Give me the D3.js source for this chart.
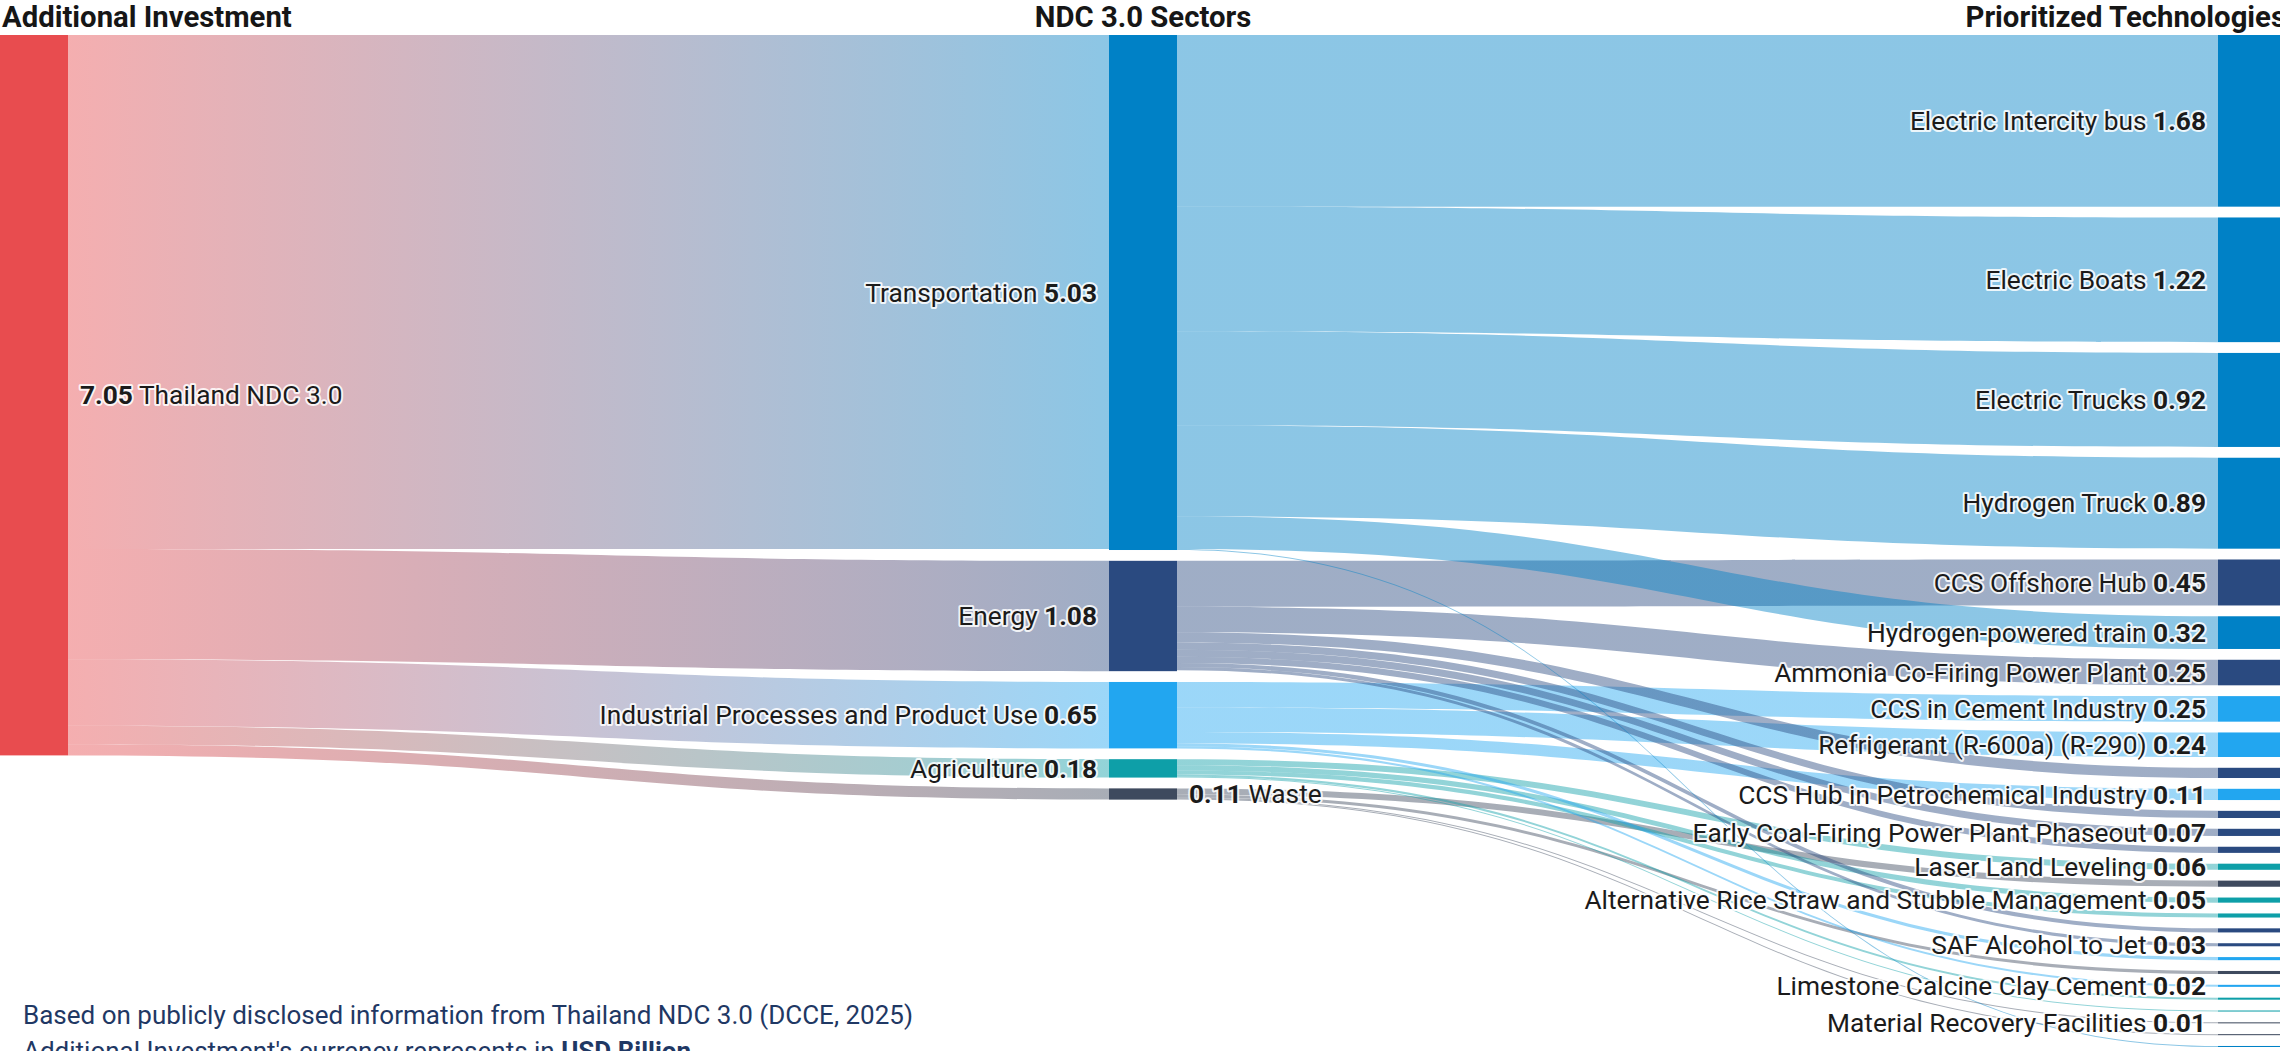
<!DOCTYPE html>
<html>
<head>
<meta charset="utf-8">
<script src="https://cdn.jsdelivr.net/npm/d3@7"></script>
<style>
  html, body { margin: 0; padding: 0; background: #fff; overflow: hidden; }
  svg { display: block; font-family: Roboto, "Noto Sans", sans-serif; }
</style>
</head>
<body>
<div id="chart"></div>
<script>
const sourceName = "Thailand NDC 3.0";
const sourceValue = 7.05;

const sectorNames = ["Transportation", "Energy", "Industrial Processes and Product Use", "Agriculture", "Waste"];
const sectorValues = [5.03, 1.08, 0.65, 0.18, 0.11];

// Right column, top to bottom. Empty name = label hidden in the original (too crowded).
const techNames = [
  "Electric Intercity bus", "Electric Boats", "Electric Trucks", "Hydrogen Truck",
  "CCS Offshore Hub", "Hydrogen-powered train", "Ammonia Co-Firing Power Plant",
  "CCS in Cement Industry", "Refrigerant (R-600a) (R-290)", "",
  "CCS Hub in Petrochemical Industry", "", "Early Coal-Firing Power Plant Phaseout", "",
  "Laser Land Leveling", "", "Alternative Rice Straw and Stubble Management", "", "",
  "SAF Alcohol to Jet", "", "", "Limestone Calcine Clay Cement", "", "",
  "Material Recovery Facilities", "", ""
];
const techValues = [
  1.68, 1.22, 0.92, 0.89,
  0.45, 0.32, 0.25,
  0.25, 0.24, 0.10,
  0.11, 0.07, 0.07, 0.06,
  0.06, 0.06, 0.05, 0.04, 0.04,
  0.03, 0.03, 0.03, 0.02, 0.02, 0.01,
  0.01, 0.01, 0.01
];
// index into sectorNames
const techSector = [
  0, 0, 0, 0,
  1, 0, 1,
  2, 2, 1,
  2, 1, 1, 1,
  3, 4, 3, 3, 1,
  1, 2, 4, 2, 3, 3,
  4, 4, 0
];

const columnTitles = ["Additional Investment", "NDC 3.0 Sectors", "Prioritized Technologies"];
const footnote1 = "Based on publicly disclosed information from Thailand NDC 3.0 (DCCE, 2025)";
const footnote2 = ["Additional Investment's currency represents in ", "USD Billion"];

const sourceColor = "#E84C4F";
const sectorColors = ["#0081C6", "#2A4A80", "#22A6F0", "#0E9FA8", "#3E4A5E"];
const labelOnRight = ["Waste"];

const WIDTH = 2286;
const HEIGHT = 1100;
const TOP = 35;
const BOTTOM = 1047;
const NODE_W = 68;
const PAD = 10.8;
const LINK_OPACITY = 0.45;
const fmt = d3.format(".2f");

// ---- build graph
const nodes = [];
const links = [];
const src = { name: sourceName, label: sourceValue, col: 0, color: sourceColor };
nodes.push(src);
const sectorNodes = sectorNames.map((name, i) => {
  const n = { name, label: sectorValues[i], col: 1, color: sectorColors[i] };
  nodes.push(n);
  links.push({ source: src, target: n, value: sectorValues[i] });
  return n;
});
techNames.forEach((name, i) => {
  const s = sectorNodes[techSector[i]];
  const n = { name, label: techValues[i], col: 2, color: s.color };
  nodes.push(n);
  links.push({ source: s, target: n, value: techValues[i] });
});

nodes.forEach((n) => { n.sourceLinks = []; n.targetLinks = []; });
links.forEach((l) => { l.source.sourceLinks.push(l); l.target.targetLinks.push(l); });
nodes.forEach((n) => {
  n.value = Math.max(d3.sum(n.sourceLinks, (l) => l.value), d3.sum(n.targetLinks, (l) => l.value));
});

// scale set by the most crowded column, nodes stacked from the top
const columns = d3.groups(nodes, (n) => n.col).map((g) => g[1]);
const k = d3.min(columns, (c) => (BOTTOM - TOP - (c.length - 1) * PAD) / d3.sum(c, (n) => n.value));
const h = d3.scaleLinear().domain([0, 1]).range([0, k]);
const x = d3.scaleLinear().domain([0, 2]).range([0, WIDTH - NODE_W]);

columns.forEach((c) => {
  let y = TOP;
  c.forEach((n) => {
    n.x0 = x(n.col);
    n.x1 = n.x0 + NODE_W;
    n.y0 = y;
    n.y1 = y + h(n.value);
    y = n.y1 + PAD;
  });
});

nodes.forEach((n) => {
  let y = n.y0;
  n.sourceLinks.sort((a, b) => a.target.y0 - b.target.y0).forEach((l) => { l.y0 = y; y += h(l.value); });
  y = n.y0;
  n.targetLinks.sort((a, b) => a.source.y0 - b.source.y0).forEach((l) => { l.y1 = y; y += h(l.value); });
});

function band(l) {
  const x0 = l.source.x1, x1 = l.target.x0, xm = (x0 + x1) / 2;
  const w = h(l.value);
  const p = d3.path();
  p.moveTo(x0, l.y0);
  p.bezierCurveTo(xm, l.y0, xm, l.y1, x1, l.y1);
  p.lineTo(x1, l.y1 + w);
  p.bezierCurveTo(xm, l.y1 + w, xm, l.y0 + w, x0, l.y0 + w);
  p.closePath();
  return p.toString();
}

// ---- draw
const svg = d3.select("#chart").append("svg")
  .attr("width", WIDTH)
  .attr("height", HEIGHT);

const defs = svg.append("defs");
links.forEach((l, i) => {
  l.gid = "lg" + i;
  const g = defs.append("linearGradient")
    .attr("id", l.gid)
    .attr("gradientUnits", "userSpaceOnUse")
    .attr("x1", l.source.x1)
    .attr("x2", l.target.x0);
  g.append("stop").attr("offset", "0%").attr("stop-color", l.source.color);
  g.append("stop").attr("offset", "100%").attr("stop-color", l.target.color);
});

svg.append("g")
  .selectAll("path")
  .data(links)
  .join("path")
  .attr("d", band)
  .attr("fill", (d) => `url(#${d.gid})`)
  .attr("fill-opacity", LINK_OPACITY);

svg.append("g")
  .selectAll("rect")
  .data(nodes)
  .join("rect")
  .attr("x", (d) => d.x0)
  .attr("y", (d) => d.y0)
  .attr("width", NODE_W)
  .attr("height", (d) => Math.max(1, d.y1 - d.y0))
  .attr("fill", (d) => d.color);

// labels
const labelG = svg.append("g")
  .attr("font-size", 26.3)
  .attr("fill", "#1b1b1b")
  .attr("stroke", "#fff")
  .attr("stroke-width", 4)
  .attr("stroke-opacity", 0.85)
  .attr("stroke-linejoin", "round")
  .attr("paint-order", "stroke");

nodes.filter((n) => n.name !== "").forEach((n) => {
  const right = n.col === 0 || labelOnRight.includes(n.name);
  const t = labelG.append("text")
    .attr("x", right ? n.x1 + 12 : n.x0 - 12)
    .attr("y", (n.y0 + n.y1) / 2)
    .attr("dy", "0.35em")
    .attr("text-anchor", right ? "start" : "end");
  if (right) {
    t.append("tspan").attr("font-weight", 700).text(fmt(n.label));
    t.append("tspan").text(" " + n.name);
  } else {
    t.append("tspan").text(n.name + " ");
    t.append("tspan").attr("font-weight", 700).text(fmt(n.label));
  }
});

// column titles
svg.append("g")
  .attr("font-size", 29.3)
  .attr("font-weight", 700)
  .attr("fill", "#161616")
  .selectAll("text")
  .data(columnTitles)
  .join("text")
  .attr("x", (d, i) => (i === 0 ? 2 : i === 1 ? x(1) + NODE_W / 2 : WIDTH))
  .attr("y", 27)
  .attr("text-anchor", (d, i) => (i === 0 ? "start" : i === 1 ? "middle" : "end"))
  .text((d) => d);

// footnote
const foot = svg.append("g")
  .attr("font-size", 26)
  .attr("fill", "#1F3864");
foot.append("text").attr("x", 23).attr("y", 1024).text(footnote1);
const f2 = foot.append("text").attr("x", 23).attr("y", 1060);
f2.append("tspan").text(footnote2[0]);
f2.append("tspan").attr("font-weight", 700).text(footnote2[1]);
</script>
</body>
</html>
